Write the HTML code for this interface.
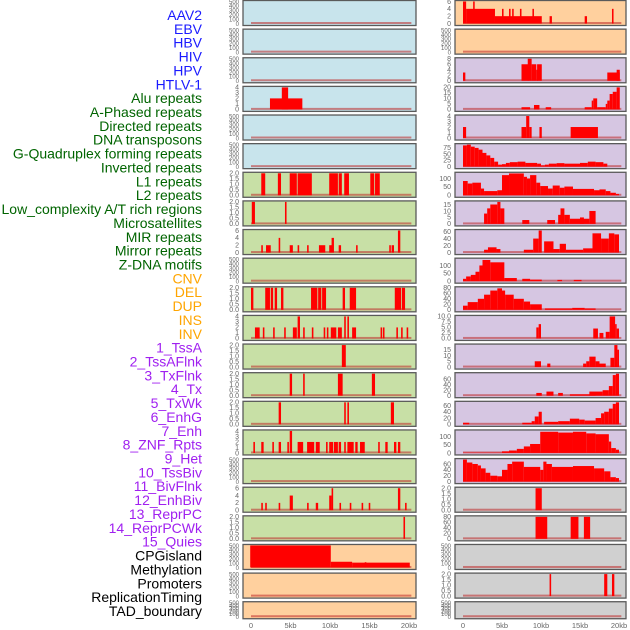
<!DOCTYPE html>
<html><head><meta charset="utf-8">
<style>
html,body{margin:0;padding:0;background:#fff;}
svg{display:block;font-family:"Liberation Sans",sans-serif;}
</style></head>
<body>
<svg id="chart" width="630" height="630" viewBox="0 0 630 630" xmlns="http://www.w3.org/2000/svg"></svg>
<script>
const trackNames = ["AAV2","EBV","HBV","HIV","HPV","HTLV-1","Alu repeats","A-Phased repeats","Directed repeats","DNA transposons","G-Quadruplex forming repeats","Inverted repeats","L1 repeats","L2 repeats","Low_complexity A/T rich regions","Microsatellites","MIR repeats","Mirror repeats","Z-DNA motifs","CNV","DEL","DUP","INS","INV","1_TssA","2_TssAFlnk","3_TxFlnk","4_Tx","5_TxWk","6_EnhG","7_Enh","8_ZNF_Rpts","9_Het","10_TssBiv","11_BivFlnk","12_EnhBiv","13_ReprPC","14_ReprPCWk","15_Quies","CPGisland","Methylation","Promoters","ReplicationTiming","TAD_boundary"];
const trackColors = ["#1a1aff","#1a1aff","#1a1aff","#1a1aff","#1a1aff","#1a1aff","#006400","#006400","#006400","#006400","#006400","#006400","#006400","#006400","#006400","#006400","#006400","#006400","#006400","#ffa500","#ffa500","#ffa500","#ffa500","#ffa500","#a020f0","#a020f0","#a020f0","#a020f0","#a020f0","#a020f0","#a020f0","#a020f0","#a020f0","#a020f0","#a020f0","#a020f0","#a020f0","#a020f0","#a020f0","#000","#000","#000","#000","#000"];
const xTickKb = [0,5,10,15,20];
const xTickLabels = ["0","5kb","10kb","15kb","20kb"];

const T500 = [0,100,200,300,400,500];
const T2 = [0,0.5,1,1.5,2];
// bars: [startKb, endKb, value]
const L4 = [[2.4,6.5,2],[3.9,4.7,4]];
const L7 = [[1.3,1.8,2],[3.4,3.8,2],[4.9,5.8,2],[5.9,7.7,2],[9.9,11,2],[11.1,11.5,2],[11.8,12.4,2],[15.1,15.6,2],[15.7,16.3,2]];
const L8 = [[0.1,0.5,2],[4.3,4.5,2]];
const L9 = [[1.3,1.5,2],[1.9,2.5,2],[3.5,3.7,4],[4.9,5.3,2],[5.9,6.1,2],[7.1,7.3,2],[8.6,9.4,2],[9.9,10.3,2],[10.2,10.5,4],[11.1,11.4,2],[13.3,13.5,2],[17.5,17.7,2],[17.8,18.1,2],[18.6,18.9,6]];
const L11 = [[0,0.3,2],[1.8,2.4,2],[2.5,2.8,2],[3.0,3.3,2],[3.8,4.1,2],[7.6,8.4,2],[8.5,8.9,2],[9.0,9.5,2],[11.6,11.9,2],[12.5,13.3,2],[18.2,19.0,2],[19.1,19.5,2]];
const L12 = [[0.5,1.1,2],[1.5,1.7,2],[2.8,3.0,2],[4.2,4.4,2],[5.3,5.8,2],[5.9,6.2,4],[6.6,6.8,2],[7.7,7.9,2],[9.2,9.4,2],[9.6,9.8,2],[10.1,10.8,2],[11.0,11.5,2],[11.8,12.0,4],[12.2,12.4,4],[12.8,13.3,2],[16.4,16.6,2],[16.7,16.9,2],[18.4,18.6,2],[19.0,19.2,2],[19.7,19.9,2]];
const L13 = [[11.5,12.0,2]];
const L14 = [[4.9,5.2,2],[6.6,6.8,2],[11.0,11.6,2],[15.3,15.7,2]];
const L15 = [[3.5,3.8,2],[11.8,12.0,2],[12.2,12.4,2],[17.7,18.1,2]];
const L16 = [[0.3,0.5,2],[1.3,1.6,2],[2.7,2.9,2],[3.5,3.8,2],[4.6,4.8,2],[4.9,5.2,4],[5.9,6.6,2],[7.1,8.0,2],[8.2,8.7,2],[9.5,9.7,2],[9.9,10.4,2],[10.5,11.0,2],[11.1,11.4,2],[11.8,12.0,2],[12.2,13.0,2],[13.2,13.5,2],[13.8,14.4,2],[16.1,16.3,2],[17.0,17.3,2],[18.1,18.4,2],[18.6,18.9,2]];
const L18 = [[1.3,1.5,2],[1.8,2.0,2],[3.5,3.7,2],[4.9,5.3,4],[7.1,7.3,2],[8.2,8.5,2],[9.9,10.2,4],[10.2,10.4,6],[11.2,11.4,2],[12.5,12.7,2],[14.0,14.2,2],[14.9,15.1,2],[18.6,18.9,6],[19.5,19.7,2]];
const L19 = [[19.3,19.5,2]];
const L20 = [[-0.1,10.1,500],[6.2,7.9,490],[10.1,12.8,130],[12.8,20.1,110],[14.4,14.6,120]];

const R1 = [[0,0.4,6],[0.4,4.1,4],[1.3,1.5,6],[4.1,10.1,2],[5.0,5.2,4],[5.9,6.1,4],[6.3,6.5,4],[7.3,7.5,4],[8.9,9.1,4],[11.1,11.4,2],[15.6,15.9,2],[19.1,19.3,4]];
const R3 = [[0,0.3,3],[7.5,8.4,6],[8.3,8.8,8],[8.8,9.4,6],[9.4,9.5,4],[9.5,10.1,6],[18.5,20.1,3],[19.7,20.1,4]];
const R4 = [[7.5,8.6,2],[9.1,9.8,4],[10.6,11.3,2],[15.6,16.5,2],[16.5,16.7,8],[16.7,17.2,10],[17.2,18.3,2],[18.3,18.5,5],[18.5,18.8,8],[18.8,19.2,14],[19.2,19.7,16],[19.7,20.1,20]];
const R5 = [[0,0.4,2],[7.5,8.1,2],[8.1,8.5,4],[8.5,8.8,2],[9.8,10.1,2],[13.8,17.3,2]];
const R6 = [[0,0.5,85],[0.5,1,88],[1,1.5,80],[1.5,2,75],[2,2.5,68],[2.5,3,55],[3,3.5,45],[3.5,4,35],[4,4.5,20],[4.5,5,8],[5,5.5,10],[5.5,6,15],[6,7,18],[7,8,20],[8,9.5,15],[9.5,10,12],[10,10.5,5],[10.5,11,8],[11,12,12],[12,13,14],[13,15,12],[15,16,15],[16,17,20],[17,18,18],[18,18.5,12]];
const R7 = [[0,0.6,85],[0.6,1.2,70],[1.2,2.3,75],[2.3,2.7,40],[2.7,4.4,25],[4.4,5.0,30],[5.0,5.9,120],[5.9,7.8,130],[7.8,8.2,110],[8.2,8.6,100],[8.6,9.4,120],[9.4,9.9,75],[9.9,10.9,55],[10.9,11.5,40],[11.5,12.4,58],[12.4,13.0,45],[13.0,14.1,52],[14.1,16.8,38],[16.8,17.5,30],[17.5,18.3,35],[18.3,18.9,25],[18.9,19.6,15],[19.6,20,8]];
const R8 = [[2.7,3.1,8],[3.1,3.5,12],[3.5,4.4,15],[4.4,4.8,17],[4.8,5.3,12],[7.6,8.5,3],[10.8,11.8,3],[12.2,12.5,7],[12.5,13.0,12],[13.0,13.7,7],[13.7,16.2,4],[15.0,15.5,5],[16.2,17.0,10]];
const R9 = [[2.7,3.2,8],[3.2,4.3,15],[4.3,4.8,10],[7.8,9.0,8],[9.0,9.7,40],[9.7,10.1,63],[10.4,11.6,32],[11.6,12.4,10],[12.4,13.2,25],[13.2,15.4,8],[15.4,16.6,12],[16.6,17.7,55],[17.7,18.7,40],[18.7,19.4,55],[19.4,20,52]];
const R10 = [[0,0.4,15],[0.4,1.0,30],[1.0,1.6,40],[1.6,2.1,60],[2.1,2.5,100],[2.5,3.5,135],[3.5,5.3,120],[5.3,6.9,20],[7.6,8.6,15],[8.6,10.1,10],[12.1,12.7,8],[14.2,15.2,8]];
const R11 = [[0,0.6,15],[0.6,1.9,28],[1.9,2.7,40],[2.7,3.5,55],[3.5,4.4,70],[4.4,5.0,78],[5.0,5.4,70],[5.4,6.5,55],[6.5,7.8,40],[7.8,8.6,30],[8.6,10.1,20],[10.5,14,5],[14,15.6,7],[15.6,17,5]];
const R12 = [[9.4,9.7,5],[9.7,10.0,6.5],[16.7,17.3,4.5],[17.5,18.0,2.5],[18.3,18.8,3],[18.8,19.5,10],[19.5,19.7,6.5],[19.7,20,4.5]];
const R13 = [[9.2,10,5],[10.8,11.2,3],[15.4,15.8,3],[15.8,16.2,5],[16.2,17,9],[17,17.5,5],[17.5,18.3,3],[18.9,19.4,8],[19.4,19.8,19],[19.8,20,15]];
const R14 = [[9.4,10.1,10],[10.7,11.6,15],[12.2,12.8,10],[13.7,17.0,5],[16.2,17.9,15],[17.9,18.7,20],[18.7,19.2,35],[19.2,19.6,75],[19.6,20,80]];
const R15 = [[0,0.8,5],[7.6,8.8,5],[8.8,9.2,10],[9.2,9.7,25],[9.7,10.1,40],[10.4,12.2,8],[12.2,13.7,10],[13.7,14.9,18],[14.9,15.6,15],[15.6,17.0,12],[17.0,17.7,20],[17.7,18.1,35],[18.1,18.7,40],[18.7,19.2,50],[19.2,19.6,65],[19.6,20,70]];
const R16 = [[0,5,2],[5.0,5.9,10],[5.9,6.9,15],[6.9,7.8,25],[7.8,8.6,40],[8.6,9.9,55],[9.9,12.2,130],[12.2,14.1,125],[14.1,15.8,130],[15.8,17.0,120],[17.0,18.7,115],[18.7,19.0,70],[19.0,19.6,30],[19.6,20,20]];
const R17 = [[0,0.5,75],[0.5,1.2,65],[1.2,1.9,60],[1.9,2.3,55],[2.3,2.9,45],[2.9,3.5,30],[3.5,4.4,20],[4.4,5.0,18],[5.0,5.7,40],[5.7,6.3,60],[6.3,7.8,68],[7.8,9.9,50],[9.9,10.3,40],[10.3,10.7,68],[10.7,11.4,60],[11.4,14.1,50],[14.1,16.8,53],[16.8,18.1,45],[18.1,18.9,35],[18.9,19.6,15],[19.6,20,12]];
const R18 = [[9.3,10.1,2]];
const R19 = [[9.3,10.8,80],[13.8,14.8,80],[15.5,16.3,80]];
const R21 = [[11.1,11.3,2],[18.1,18.5,2],[19.1,19.4,2]];

const BLUE="#c8e4ec", GREEN="#c8e0a6", ORANGE="#ffd09e", PURPLE="#d6c6e2", GRAY="#d0d0d0";
const leftPanels = [
 [BLUE,500,T500,[]],[BLUE,500,T500,[]],[BLUE,500,T500,[]],[BLUE,4,[0,1,2,3,4],L4],[BLUE,500,T500,[]],[BLUE,500,T500,[]],
 [GREEN,2,T2,L7],[GREEN,2,T2,L8],[GREEN,6,[0,2,4,6],L9],[GREEN,500,T500,[]],[GREEN,2,T2,L11],[GREEN,4,[0,1,2,3,4],L12],
 [GREEN,2,T2,L13],[GREEN,2,T2,L14],[GREEN,2,T2,L15],[GREEN,4,[0,1,2,3,4],L16],[GREEN,500,T500,[]],[GREEN,6,[0,2,4,6],L18],[GREEN,2,T2,L19],
 [ORANGE,500,T500,L20],[ORANGE,500,T500,[]],[ORANGE,500,T500,[]]
];
const rightPanels = [
 [ORANGE,6,[0,2,4,6],R1],[ORANGE,500,T500,[]],[PURPLE,8,[0,2,4,6,8],R3],[PURPLE,20,[0,5,10,15,20],R4],[PURPLE,4,[0,1,2,3,4],R5],
 [PURPLE,88,[0,25,50,75],R6],[PURPLE,131,[0,50,100],R7],[PURPLE,17,[0,5,10,15],R8],[PURPLE,63,[0,20,40,60],R9],[PURPLE,140,[0,50,100],R10],
 [PURPLE,80,[0,20,40,60,80],R11],[PURPLE,10,[0,2.5,5,7.5,10],R12],[PURPLE,19,[0,5,10,15],R13],[PURPLE,80,[0,20,40,60],R14],[PURPLE,70,[0,20,40,60],R15],
 [PURPLE,135,[0,50,100],R16],[PURPLE,75,[0,20,40,60],R17],[GRAY,2,T2,R18],[GRAY,80,[0,20,40,60,80],R19],[GRAY,500,T500,[]],[GRAY,2,T2,R21],[GRAY,500,T500,[]]
];

const NS="http://www.w3.org/2000/svg";
const svg=document.getElementById('chart');
function mk(tag,attrs,parent){const e=document.createElementNS(NS,tag);for(const k in attrs)e.setAttribute(k,attrs[k]);(parent||svg).appendChild(e);return e;}

// labels
trackNames.forEach((n,i)=>{
  const t=mk('text',{x:202,y:15+i*13.86+5,'text-anchor':'end','font-size':'14',fill:trackColors[i]});
  
  
  t.textContent=n;
});

function fmt(v){ if(v===0) return (arguments[1]?"0.0":"0"); return String(v);}
function drawColumn(panels,boxL,boxR,x0,x20,tickX,colName){
  const xs=kb=>x0+(kb/20)*(x20-x0);
  const hasDec = p=>p[2].some(v=>v%1!==0);
  panels.forEach((p,i)=>{
    const T=i*28.63+0.5, H=(i===21)?17:25;
    const g=mk('g',{});
    
    
    mk('rect',{x:boxL,y:T,width:boxR-boxL,height:H,fill:p[0]},g);
    const yTop=T+1, y0=T+H-2;
    const ys=v=>y0-(Math.min(v,p[1])/p[1])*(y0-yTop);
    // baseline
    const bl=mk('rect',{x:xs(0),y:y0-1.5,width:xs(20.3)-xs(0),height:2,fill:'rgba(190,40,40,0.55)'},g);
    
    
    p[3].forEach(b=>{
      const r=mk('rect',{x:xs(b[0]),y:ys(b[2]),width:Math.max(1.5,xs(b[1])-xs(b[0])),height:y0-ys(b[2]),fill:'#ff0000'},g);
      
      
    });
    mk('rect',{x:boxL,y:T,width:boxR-boxL,height:H,fill:'none',stroke:'#5a5a5a','stroke-width':1.3},g);
    const dec=hasDec(p);
    const fs = p[2].length>=6 ? 6 : 7;
    p[2].forEach(v=>{
      const tl=mk('text',{x:tickX,y:ys(v)+2.3,'text-anchor':'end','font-size':fs,fill:'#666'},g);
      
      
      tl.textContent = dec ? v.toFixed(1) : String(v);
    });
  });
  xTickKb.forEach((k,j)=>{
    const t=mk('text',{x:xs(k),y:628,'text-anchor':'middle','font-size':'7.5',fill:'#666'});
    
    
    t.textContent=xTickLabels[j];
  });
}
drawColumn(leftPanels,243,416,251,409,239,'left');
drawColumn(rightPanels,455,626,463,619,451,'right');
</script>
</body></html>
